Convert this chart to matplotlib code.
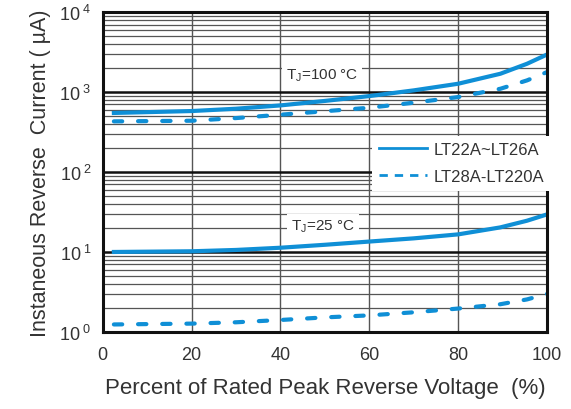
import numpy as np
import matplotlib
matplotlib.use('Agg')
import matplotlib.pyplot as plt
from matplotlib.ticker import LogLocator, NullFormatter

plt.rcParams['font.family'] = ['Liberation Sans', 'DejaVu Sans']
plt.rcParams['mathtext.fontset'] = 'custom'
plt.rcParams['mathtext.rm'] = 'Liberation Sans'
plt.rcParams['mathtext.it'] = 'Liberation Sans'

# percent of rated peak reverse voltage
pct = [2.5, 20, 30, 40, 50, 60, 70, 80, 89.5, 95.5, 100]

# T_J = 100 C
i100_a = [548, 579, 619, 681, 775, 891, 1050, 1271, 1695, 2260, 2950]   # LT22A~LT26A
i100_b = [430, 438, 473, 521, 576, 637, 736, 866, 1100, 1400, 1778]     # LT28A-LT220A
# T_J = 25 C
i25_a = [10.0, 10.2, 10.6, 11.3, 12.3, 13.5, 14.8, 16.6, 20.3, 24.6, 29.5]
i25_b = [1.24, 1.27, 1.32, 1.41, 1.52, 1.61, 1.76, 1.96, 2.22, 2.55, 2.99]

blue = '#0f8fd6'
txt = '#333333'
dash = (0, (2.0, 3.8))

fig = plt.figure(figsize=(5.71, 4.10), dpi=100)
ax = fig.add_axes([0.180, 0.188, 0.778, 0.780])

ax.plot(pct, i100_a, color=blue, lw=3, label='LT22A~LT26A')
ax.plot(pct, i100_b, color=blue, lw=3, ls=dash, dash_capstyle='round', label='LT28A-LT220A')
ax.plot(pct, i25_a, color=blue, lw=3)
ax.plot(pct, i25_b, color=blue, lw=3, ls=dash, dash_capstyle='round')

ax.set_yscale('log')
ax.set_xlim(0, 100)
ax.set_ylim(1, 1e4)
ax.set_xticks([0, 20, 40, 60, 80, 100])
ax.set_yticks([1, 10, 100, 1000, 10000])
ax.set_yticklabels([r'$10^{\ 0}$', r'$10^{\ 1}$', r'$10^{\ 2}$', r'$10^{\ 3}$', r'$10^{\ 4}$'])
ax.yaxis.set_minor_locator(LogLocator(base=10, subs=np.arange(2, 10)))
ax.yaxis.set_minor_formatter(NullFormatter())
ax.tick_params(which='both', length=0, labelsize=13, colors=txt, pad=8)
ax.tick_params(axis='x', pad=10)

ax.grid(which='major', axis='y', color='#111111', lw=1.8, zorder=0)
ax.grid(which='minor', axis='y', color='#555555', lw=0.9, zorder=0)
ax.grid(which='major', axis='x', color='#555555', lw=1.0, zorder=0)
ax.set_axisbelow(True)
for s in ax.spines.values():
    s.set_linewidth(2.2)
    s.set_color('#111111')

bb = dict(facecolor='white', edgecolor='none', pad=3)
ax.text(49.3, 1632, r'T$_\mathregular{J}$=100 °C', ha='center', va='center',
        fontsize=11, color=txt, bbox=bb)
ax.text(49.5, 21.1, r'T$_\mathregular{J}$=25 °C', ha='center', va='center',
        fontsize=11, color=txt, bbox=bb)

leg = ax.legend(loc='upper left', bbox_to_anchor=(0.606, 0.614), frameon=True,
                fontsize=12, handlelength=2.9, handletextpad=0.4, borderpad=0.4,
                borderaxespad=0, labelspacing=0.7, fancybox=False)
leg.get_frame().set_edgecolor('none')
leg.get_frame().set_facecolor('white')
leg.get_frame().set_alpha(1)
for t in leg.get_texts():
    t.set_color(txt)
for h in leg.get_lines():
    h.set_linewidth(2)
    h.set_dash_capstyle('butt')
leg.get_lines()[1].set_linestyle((0, (3, 2.5)))

ax.set_xlabel('Percent of Rated Peak Reverse Voltage  (%)', fontsize=16, color=txt, labelpad=10)
ax.set_ylabel('Instaneous Reverse  Current ( µA)', fontsize=15.5, color=txt, labelpad=6)

fig.savefig('out.png', dpi=100)
